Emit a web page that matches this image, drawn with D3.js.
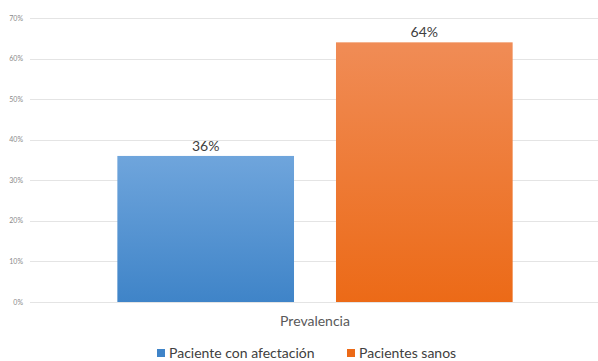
<!DOCTYPE html>
<html>
<head>
<meta charset="utf-8">
<script src="https://cdn.jsdelivr.net/npm/d3@7"></script>
<style>
  body { margin: 0; background: #fff; }
  text { font-family: Lato, "Open Sans", sans-serif; }
</style>
</head>
<body>
<script>
var w = 598;
var h = 361;

var categories = ["Prevalencia"];
var series = ["Paciente con afectación", "Pacientes sanos"];
var values = [36, 64];
var tickValues = [0, 10, 20, 30, 40, 50, 60, 70];

var colorsTop = ["#6fa5dc", "#f08c56"];
var colorsBottom = ["#3f84c8", "#ec6a17"];

var svg = d3.select("body")
            .append("svg")
            .attr("width", w)
            .attr("height", h);

var defs = svg.append("defs");
series.forEach(function(s, i) {
  var g = defs.append("linearGradient")
    .attr("id", "grad" + i)
    .attr("x1", 0).attr("y1", 0).attr("x2", 0).attr("y2", 1);
  g.append("stop").attr("offset", "0%").attr("stop-color", colorsTop[i]);
  g.append("stop").attr("offset", "100%").attr("stop-color", colorsBottom[i]);
});

var yScale = d3.scaleLinear()
  .domain([0, 70])
  .range([302, 18]);

var x0 = d3.scaleBand()
  .domain(categories)
  .range([30, 600])
  .paddingInner(0.181)
  .paddingOuter(0.181);

var x1 = d3.scaleBand()
  .domain(series)
  .range([0, x0.bandwidth()])
  .paddingInner(0.192)
  .paddingOuter(0);

// gridlines
svg.selectAll("line.grid")
  .data(tickValues)
  .enter()
  .append("line")
  .attr("class", "grid")
  .attr("x1", 30)
  .attr("x2", w)
  .attr("y1", function(d) { return Math.round(yScale(d)) + 0.5; })
  .attr("y2", function(d) { return Math.round(yScale(d)) + 0.5; })
  .attr("stroke", "#e4e4e4")
  .attr("stroke-width", 1);

// y tick labels
svg.selectAll("text.tick")
  .data(tickValues)
  .enter()
  .append("text")
  .attr("class", "tick")
  .attr("x", 23)
  .attr("y", function(d) { return yScale(d) + 2.5; })
  .attr("text-anchor", "end")
  .attr("font-size", "7px")
  .attr("fill", "#8a8a8a")
  .text(function(d) { return d + "%"; });

// bars
var group = svg.append("g")
  .attr("transform", "translate(" + x0(categories[0]) + ",0)");

group.selectAll("rect")
  .data(values)
  .enter()
  .append("rect")
  .attr("x", function(d, i) { return x1(series[i]); })
  .attr("y", function(d) { return yScale(d); })
  .attr("width", x1.bandwidth())
  .attr("height", function(d) { return yScale(0) - yScale(d); })
  .attr("fill", function(d, i) { return "url(#grad" + i + ")"; });

group.selectAll("text.val")
  .data(values)
  .enter()
  .append("text")
  .attr("class", "val")
  .attr("x", function(d, i) { return x1(series[i]) + x1.bandwidth() / 2; })
  .attr("y", function(d) { return yScale(d) - 5; })
  .attr("text-anchor", "middle")
  .attr("font-size", "14px")
  .attr("fill", "#404040")
  .text(function(d) { return d + "%"; });

// category label
svg.append("text")
  .attr("x", x0(categories[0]) + x0.bandwidth() / 2)
  .attr("y", 326)
  .attr("text-anchor", "middle")
  .attr("font-size", "14px")
  .attr("fill", "#595959")
  .text(categories[0]);

// legend
var legendX = [157, 347];
var legend = svg.selectAll("g.legend")
  .data(series)
  .enter()
  .append("g")
  .attr("class", "legend")
  .attr("transform", function(d, i) { return "translate(" + legendX[i] + ",349)"; });

legend.append("rect")
  .attr("width", 8)
  .attr("height", 8)
  .attr("fill", function(d, i) { return colorsBottom[i]; });

legend.append("text")
  .attr("x", 12)
  .attr("y", 9)
  .attr("font-size", "14px")
  .attr("fill", "#404040")
  .text(function(d) { return d; });
</script>
</body>
</html>
